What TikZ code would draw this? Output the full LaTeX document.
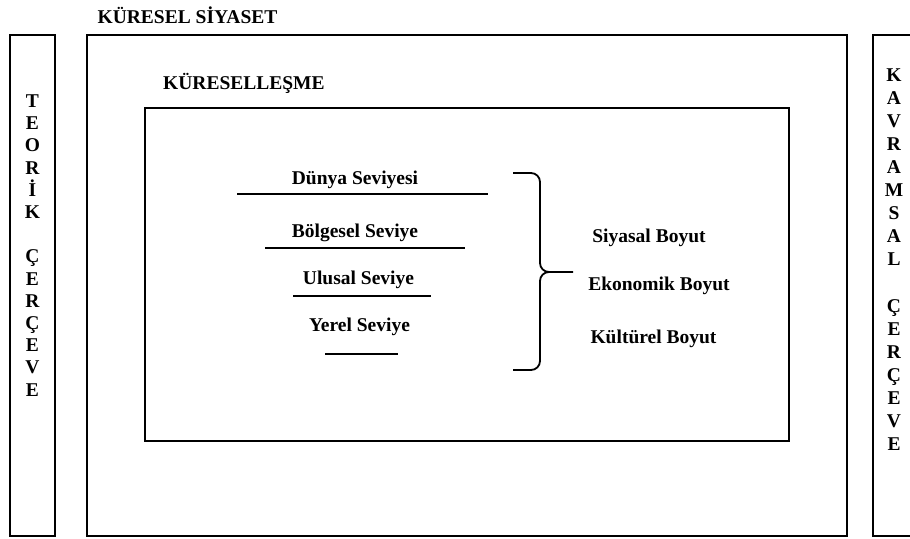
\documentclass[tikz,border=0pt]{standalone}
\usepackage{fontspec}
\setmainfont{Liberation Serif}
\usepackage{tikz}
\usetikzlibrary{positioning}

\begin{document}
\begin{tikzpicture}[x=1pt, y=-1pt]
    \tikzstyle{txt}=[inner sep = 0 pt, text height = 13 pt, text depth = 0 pt, font=\fontsize{19.5}{22}\selectfont\bfseries]
    \tikzstyle{frm}=[line width = 1.6 pt]
    \tikzstyle{ln}=[line width = 1.8 pt]
    \useasboundingbox (0,0) rectangle (910,538);
    \clip (0,0) rectangle (910,538);
    % frames
    \draw[frm] (10,35) rectangle (55,536);
    \draw[frm] (87,35) rectangle (847,536);
    \draw[frm] (145,108) rectangle (789,441);
    \draw[frm] (873,35) rectangle (930,536);
    \node[txt] (siyaset) at (187.5,17) {KÜRESEL SİYASET};
    \node[txt, anchor=west] (kuresel) at (163,83) {KÜRESELLEŞME};
    % vertical letters
    \foreach \c/\k [count=\n] in {T/0,E/1,O/2,R/3,İ/4,K/5,Ç/7,E/8,R/9,Ç/10,E/11,V/12,E/13}
    {\node[txt] (teo\n) at (32.5,101+22.2*\k) {\c};}
    \foreach \c/\k [count=\n] in {K/0,A/1,V/2,R/3,A/4,M/5,S/6,A/7,L/8,Ç/10,E/11,R/12,Ç/13,E/14,V/15,E/16}
    {\node[txt] (kav\n) at (894,75+23.06*\k) {\c};}
    % levels
    \node[txt] (dunya) at (355,178) {Dünya Seviyesi};
    \node[txt] (bolge) at (355,231) {Bölgesel Seviye};
    \node[txt] (ulus) at (358.5,278) {Ulusal Seviye};
    \node[txt] (yerel) at (359.5,325) {Yerel Seviye};
    \foreach \i/\j/\k in {237/488/194, 265/465/248, 293/431/296, 325/398/354}
    {\draw[ln] (\i,\k) -- (\j,\k);}
    % brace
    \draw[ln] (513,173) -- (531,173) to[out=0, in=90] (540,182) -- (540,263)
      to[out=-90, in=180] (549,272) -- (573,272);
    \draw[ln] (549,272) to[out=180, in=90] (540,281) -- (540,361)
      to[out=-90, in=0] (531,370) -- (513,370);
    % dimensions
    \node[txt] (siyasal) at (649,236) {Siyasal Boyut};
    \node[txt] (ekonomik) at (659,284) {Ekonomik Boyut};
    \node[txt] (kultur) at (653.5,337) {Kültürel Boyut};
\end{tikzpicture}
\end{document}
